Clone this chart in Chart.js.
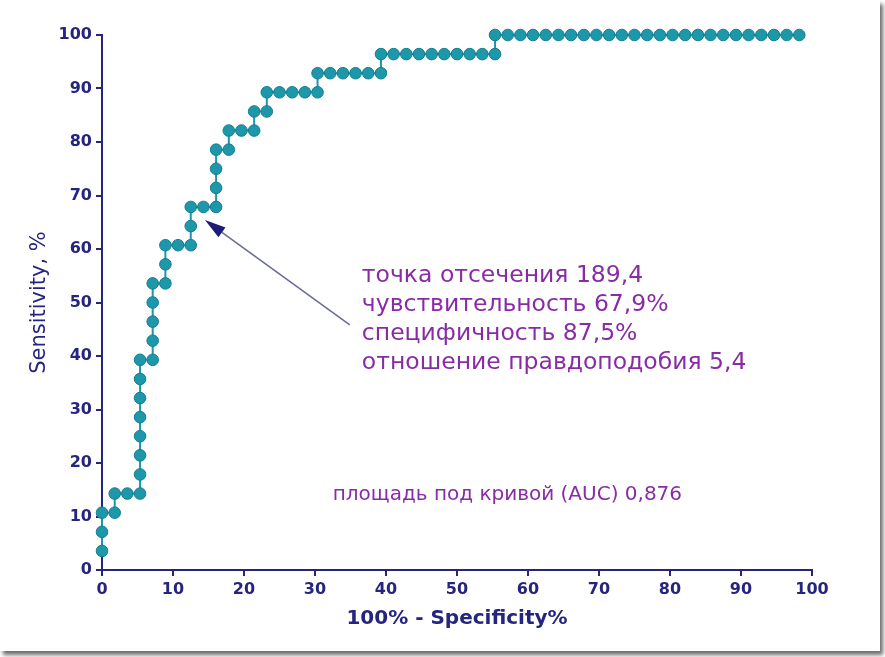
<!DOCTYPE html>
<html>
<head>
<meta charset="utf-8">
<script src="https://cdn.jsdelivr.net/npm/chart.js@4/dist/chart.umd.min.js"></script>
<style>
  html, body { margin: 0; padding: 0; background: #fff; }
  .frame {
    position: absolute; left: 0; top: 0;
    width: 880px; height: 651px; background: #fff;
    box-shadow: 3px 4px 4px rgba(60, 60, 60, 0.75);
  }
  canvas { display: block; }
</style>
</head>
<body>
<div class="frame"><canvas id="rocChart" width="880" height="651"></canvas></div>
<script>
// 100% - Specificity% (x) and Sensitivity% (y) for every threshold point
const fprValues = [
  0, 0, 0, 1.79, 1.79, 3.57, 5.36, 5.36, 5.36, 5.36, 5.36, 5.36, 5.36, 5.36,
  7.14, 7.14, 7.14, 7.14, 7.14, 8.93, 8.93, 8.93, 10.71, 12.5, 12.5, 12.5,
  14.29, 16.07, 16.07, 16.07, 16.07, 17.86, 17.86, 19.64, 21.43, 21.43,
  23.21, 23.21, 25, 26.79, 28.57, 30.36, 30.36, 32.14, 33.93, 35.71, 37.5,
  39.29, 39.29, 41.07, 42.86, 44.64, 46.43, 48.21, 50, 51.79, 53.57, 55.36,
  55.36, 57.14, 58.93, 60.71, 62.5, 64.29, 66.07, 67.86, 69.64, 71.43, 73.21,
  75, 76.79, 78.57, 80.36, 82.14, 83.93, 85.71, 87.5, 89.29, 91.07, 92.86,
  94.64, 96.43, 98.21
];
const sensValues = [
  3.57, 7.14, 10.71, 10.71, 14.29, 14.29, 14.29, 17.86, 21.43, 25, 28.57, 32.14, 35.71, 39.29,
  39.29, 42.86, 46.43, 50, 53.57, 53.57, 57.14, 60.71, 60.71, 60.71, 64.29, 67.86,
  67.86, 67.86, 71.43, 75, 78.57, 78.57, 82.14, 82.14, 82.14, 85.71,
  85.71, 89.29, 89.29, 89.29, 89.29, 89.29, 92.86, 92.86, 92.86, 92.86, 92.86,
  92.86, 96.43, 96.43, 96.43, 96.43, 96.43, 96.43, 96.43, 96.43, 96.43, 96.43,
  100, 100, 100, 100, 100, 100, 100, 100, 100, 100, 100,
  100, 100, 100, 100, 100, 100, 100, 100, 100, 100, 100,
  100, 100, 100
];
const xTickValues = [0, 10, 20, 30, 40, 50, 60, 70, 80, 90, 100];
const yTickValues = [0, 10, 20, 30, 40, 50, 60, 70, 80, 90, 100];

const cutoffLines = [
  'точка отсечения 189,4',
  'чувствительность 67,9%',
  'специфичность 87,5%',
  'отношение правдоподобия 5,4'
];
const aucText = 'площадь под кривой (AUC) 0,876';

const navy = '#25257f';
const teal = '#1d97aa';
const tealDark = '#157d8c';
const purple = '#8a2ba6';

const rocNotes = {
  id: 'rocNotes',
  afterDraw(chart) {
    const { ctx } = chart;
    const xs = chart.scales.x;
    const ys = chart.scales.y;

    // arrow pointing at the cut-off point
    const tipX = xs.getPixelForValue(14.5), tipY = ys.getPixelForValue(65.4);
    const tailX = xs.getPixelForValue(34.9), tailY = ys.getPixelForValue(45.8);
    const ang = Math.atan2(tipY - tailY, tipX - tailX);
    const headLen = 21, headHalf = 6;
    const baseX = tipX - headLen * Math.cos(ang), baseY = tipY - headLen * Math.sin(ang);

    ctx.save();
    ctx.strokeStyle = '#6c6c98';
    ctx.lineWidth = 1.6;
    ctx.beginPath();
    ctx.moveTo(tailX, tailY);
    ctx.lineTo(baseX, baseY);
    ctx.stroke();

    ctx.fillStyle = '#1c1c7a';
    ctx.beginPath();
    ctx.moveTo(tipX, tipY);
    ctx.lineTo(baseX + headHalf * Math.sin(ang), baseY - headHalf * Math.cos(ang));
    ctx.lineTo(baseX - headHalf * Math.sin(ang), baseY + headHalf * Math.cos(ang));
    ctx.closePath();
    ctx.fill();

    // text notes
    ctx.fillStyle = purple;
    ctx.textAlign = 'left';
    ctx.textBaseline = 'middle';
    ctx.font = '23.5px "DejaVu Sans", sans-serif';
    const left = xs.getPixelForValue(36.6);
    const top = ys.getPixelForValue(55.0);
    cutoffLines.forEach((line, i) => {
      ctx.fillText(line, left, top + i * 29);
    });
    ctx.font = '20px "DejaVu Sans", sans-serif';
    ctx.fillText(aucText, xs.getPixelForValue(32.5), ys.getPixelForValue(14.0));
    ctx.restore();
  }
};

const rocCtx = document.getElementById('rocChart');
new Chart(rocCtx, {
  type: 'scatter',
  data: {
    datasets: [{
      data: fprValues.map((x, i) => ({ x, y: sensValues[i] })),
      showLine: true,
      borderColor: teal,
      borderWidth: 2,
      pointRadius: 5.8,
      pointBackgroundColor: teal,
      pointBorderColor: tealDark,
      pointBorderWidth: 1,
      clip: false
    }]
  },
  options: {
    responsive: false,
    animation: false,
    layout: { padding: { top: 35, right: 68, left: 0, bottom: 0 } },
    plugins: {
      legend: { display: false },
      tooltip: { enabled: false }
    },
    scales: {
      x: {
        type: 'linear',
        min: 0,
        max: 100,
        afterBuildTicks: (s) => { s.ticks = xTickValues.map((v) => ({ value: v })); },
        afterFit: (s) => { s.height = 81; },
        border: { color: navy, width: 2 },
        grid: { drawOnChartArea: false, tickLength: 6, color: navy, lineWidth: 2 },
        ticks: {
          color: navy,
          padding: 4,
          maxRotation: 0,
          font: { family: '"DejaVu Sans", sans-serif', size: 16, weight: 'bold' }
        },
        title: {
          display: true,
          text: '100% - Specificity%',
          color: navy,
          padding: { top: 0, bottom: 20 },
          font: { family: '"DejaVu Sans", sans-serif', size: 20, weight: 'bold' }
        }
      },
      y: {
        type: 'linear',
        min: 0,
        max: 100,
        afterBuildTicks: (s) => { s.ticks = yTickValues.map((v) => ({ value: v })); },
        afterFit: (s) => { s.width = 102; },
        border: { color: navy, width: 2 },
        grid: { drawOnChartArea: false, tickLength: 6, color: navy, lineWidth: 2 },
        ticks: {
          color: navy,
          padding: 4,
          font: { family: '"DejaVu Sans", sans-serif', size: 16, weight: 'bold' }
        },
        title: {
          display: true,
          text: 'Sensitivity, %',
          color: navy,
          padding: { top: 27, bottom: 0 },
          font: { family: '"DejaVu Sans", sans-serif', size: 21 }
        }
      }
    }
  },
  plugins: [rocNotes]
});
</script>
</body>
</html>
